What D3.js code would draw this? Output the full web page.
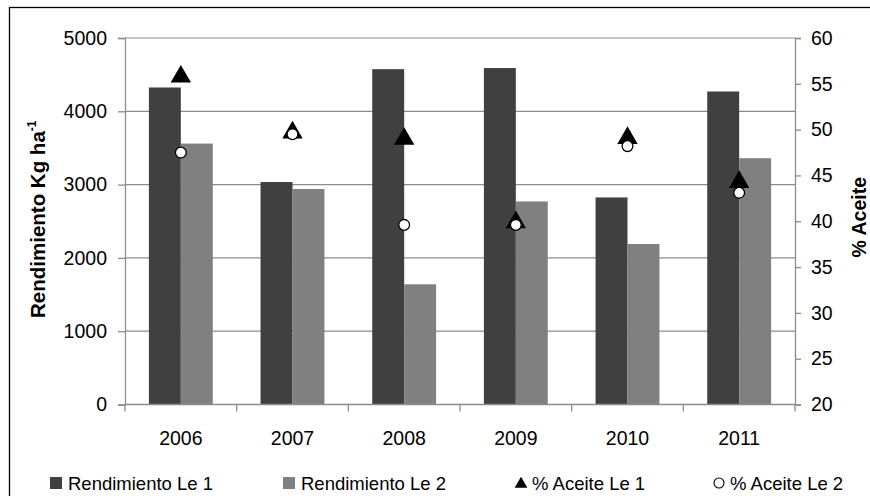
<!DOCTYPE html>
<html>
<head>
<meta charset="utf-8">
<script src="https://cdn.jsdelivr.net/npm/d3@7"></script>
<style>
  html, body { margin: 0; padding: 0; background: #fff; }
  svg { display: block; font-family: "Liberation Sans", Arial, sans-serif; }
</style>
</head>
<body>
<svg id="chart" width="870" height="496"></svg>
<script>
const years = ["2006", "2007", "2008", "2009", "2010", "2011"];
const rendLe1 = [4325, 3035, 4575, 4590, 2825, 4270];
const rendLe2 = [3560, 2940, 1640, 2770, 2190, 3360];
const aceiteLe1 = [56.0, 49.9, 49.2, 40.1, 49.3, 44.5];
const aceiteLe2 = [47.5, 49.5, 39.6, 39.6, 48.2, 43.1];
const leftTicks = [0, 1000, 2000, 3000, 4000, 5000];
const rightTicks = [20, 25, 30, 35, 40, 45, 50, 55, 60];
const seriesNames = ["Rendimiento Le 1", "Rendimiento Le 2", "% Aceite Le 1", "% Aceite Le 2"];

const svg = d3.select("#chart");
const pLeft = 125, pRight = 795, pTop = 38, pBottom = 404.5;
const axisFont = 19.5;
const legendFont = 18.5;
const gridColor = "#8c8c8c";

// outer border
svg.append("rect").attr("x", 9.5).attr("y", 7.5).attr("width", 880).attr("height", 500)
  .attr("fill", "none").attr("stroke", "#000").attr("stroke-width", 1.3);

const x = d3.scaleBand().domain(years).range([pLeft, pRight]).paddingInner(0.428).paddingOuter(0.214);
const xs = d3.scaleBand().domain(["a", "b"]).range([0, x.bandwidth()]);
const yL = d3.scaleLinear().domain([0, 5000]).range([pBottom, pTop]);
const yR = d3.scaleLinear().domain([20, 60]).range([pBottom, pTop]);

// gridlines
svg.append("g").selectAll("line").data(leftTicks.filter(d => d > 0)).join("line")
  .attr("x1", pLeft).attr("x2", pRight)
  .attr("y1", d => yL(d)).attr("y2", d => yL(d))
  .attr("stroke", gridColor).attr("stroke-width", 1.2);

// bars
const g = svg.append("g");
g.selectAll("rect.b1").data(years).join("rect")
  .attr("x", d => x(d) + xs("a")).attr("width", xs.bandwidth())
  .attr("y", (d, i) => yL(rendLe1[i])).attr("height", (d, i) => yL(0) - yL(rendLe1[i]))
  .attr("fill", "#404040");
g.selectAll("rect.b2").data(years).join("rect")
  .attr("x", d => x(d) + xs("b")).attr("width", xs.bandwidth())
  .attr("y", (d, i) => yL(rendLe2[i])).attr("height", (d, i) => yL(0) - yL(rendLe2[i]))
  .attr("fill", "#808080");

// axes
const axL = d3.axisLeft(yL).tickValues(leftTicks).tickSize(7).tickPadding(11).tickFormat(d3.format("d"));
const gl = svg.append("g").attr("transform", `translate(${pLeft},0)`).call(axL);
const axR = d3.axisRight(yR).tickValues(rightTicks).tickSize(6).tickPadding(10).tickFormat(d3.format("d"));
const gr = svg.append("g").attr("transform", `translate(${pRight},0)`).call(axR);
const xBoundaries = d3.range(years.length + 1).map(i => pLeft + i * x.step());
const gb = svg.append("g");
gb.append("line").attr("x1", pLeft).attr("x2", pRight).attr("y1", pBottom).attr("y2", pBottom)
  .attr("stroke", gridColor).attr("stroke-width", 1.3);
gb.selectAll("line.t").data(xBoundaries).join("line")
  .attr("x1", d => d).attr("x2", d => d).attr("y1", pBottom).attr("y2", pBottom + 7)
  .attr("stroke", gridColor).attr("stroke-width", 1.3);
gb.selectAll("text").data(years).join("text")
  .attr("x", d => x(d) + x.bandwidth() / 2).attr("y", 445)
  .attr("text-anchor", "middle").attr("font-size", axisFont).attr("fill", "#000").text(d => d);

[gl, gr].forEach(a => {
  a.select(".domain").attr("stroke", gridColor).attr("stroke-width", 1.3);
  a.selectAll(".tick line").attr("stroke", gridColor).attr("stroke-width", 1.3);
  a.selectAll(".tick text").attr("font-size", axisFont).attr("fill", "#000")
    .attr("font-family", "'Liberation Sans', Arial, sans-serif");
});

// markers
const tri = d3.symbol().type(d3.symbolTriangle).size(180);
const cx = d => x(d) + x.bandwidth() / 2;
svg.append("g").selectAll("path").data(years).join("path")
  .attr("d", tri)
  .attr("transform", (d, i) => `translate(${cx(d)},${yR(aceiteLe1[i]) + 2})`)
  .attr("fill", "#000");
svg.append("g").selectAll("circle").data(years).join("circle")
  .attr("cx", cx).attr("cy", (d, i) => yR(aceiteLe2[i])).attr("r", 5.4)
  .attr("fill", "#fff").attr("stroke", "#000").attr("stroke-width", 1.3);

// axis titles
const tL = svg.append("text").attr("transform", `translate(45,${(pTop + pBottom) / 2 - 2}) rotate(-90)`)
  .attr("text-anchor", "middle").attr("font-size", 20.5).attr("font-weight", "bold");
tL.append("tspan").text("Rendimiento Kg ha");
tL.append("tspan").attr("dy", -9).attr("font-size", 12).text("-1");
svg.append("text").attr("transform", `translate(866,${(pTop + pBottom) / 2 - 4}) rotate(-90)`)
  .attr("text-anchor", "middle").attr("font-size", 19.5).attr("font-weight", "bold").text("% Aceite");

// legend
const legendX = [50, 283, 515, 713];
const lg = svg.append("g");
lg.append("rect").attr("x", legendX[0]).attr("y", 477).attr("width", 12).attr("height", 12).attr("fill", "#404040");
lg.append("rect").attr("x", legendX[1]).attr("y", 477).attr("width", 12).attr("height", 12).attr("fill", "#808080");
lg.append("path").attr("d", d3.symbol().type(d3.symbolTriangle).size(70))
  .attr("transform", `translate(${legendX[2] + 6},484)`).attr("fill", "#000");
lg.append("circle").attr("cx", legendX[3] + 6).attr("cy", 483).attr("r", 5)
  .attr("fill", "#fff").attr("stroke", "#000").attr("stroke-width", 1.1);
lg.selectAll("text").data(seriesNames).join("text")
  .attr("x", (d, i) => legendX[i] + (i < 2 ? 18 : 17)).attr("y", 490)
  .attr("font-size", legendFont).attr("fill", "#000").text(d => d);
</script>
</body>
</html>
